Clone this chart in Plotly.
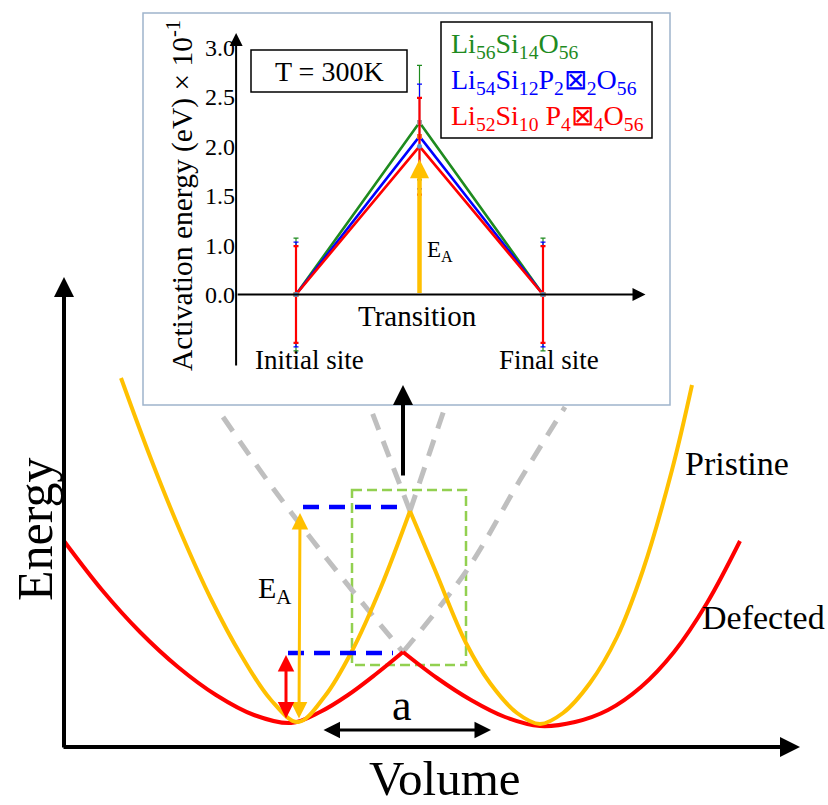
import plotly.graph_objects as go

W, H = 828, 805
FONT = "Liberation Serif"

# ---------------- main schematic: curves (pixel units, y downward) ----------------
pristine_left_x = [121, 151, 181, 211, 241, 271, 298, 325, 352, 381, 410]
pristine_left_y = [378, 459, 533, 599, 655, 700, 722, 696, 651, 587, 511]
pristine_right_x = [410, 435, 466, 490, 517, 540, 563, 590, 617, 643, 672, 692]
pristine_right_y = [511, 570, 643, 683, 713, 724, 713, 683, 637, 570, 470, 385]
defected_left_x = [64, 102, 140, 178, 216, 254, 291, 320, 348, 376, 403]
defected_left_y = [541, 590, 632, 667, 695, 715, 723, 712, 695, 674, 652]
defected_right_x = [403, 437, 471, 505, 540, 575, 608, 641, 674, 707, 740]
defected_right_y = [652, 678, 700, 717, 726, 722, 710, 687, 652, 603, 541]
guide_a_x = [223, 267, 313, 360, 403]
guide_a_y = [417, 480, 541, 600, 652]
guide_b_x = [403, 467, 520, 565]
guide_b_y = [652, 570, 480, 407]
guide_c_x = [410, 370]
guide_c_y = [511, 407]
guide_d_x = [410, 445]
guide_d_y = [511, 407]

# ---------------- inset: activation energy ----------------
sites = [0, 1, 2]
site_labels = ["Initial site", "Transition", "Final site"]
BASE = 0.5  # the inset's "0.0" tick sits at this axis position
ea_li56 = [BASE, 2.24, BASE]
ea_li54 = [BASE, 2.10, BASE]
ea_li52 = [BASE, 2.00, BASE]
err_li56 = [0.57, 0.58, 0.57]
err_li54 = [0.53, 0.53, 0.53]
err_li52 = [0.49, 0.49, 0.49]
tick_pos = [0.5, 1.0, 1.5, 2.0, 2.5, 3.0]
tick_text = ["0.0", "1.0", "1.5", "2.0", "2.5", "3.0"]
series_names = ["Li<sub>56</sub>Si<sub>14</sub>O<sub>56</sub>",
                "Li<sub>54</sub>Si<sub>12</sub>P<sub>2</sub>\u22a0<sub>2</sub>O<sub>56</sub>",
                "Li<sub>52</sub>Si<sub>10</sub> P<sub>4</sub>\u22a0<sub>4</sub>O<sub>56</sub>"]

GREEN, BLUE, RED = "#1f8b1f", "#0000ff", "#ff0000"
GOLD, CURVE_RED, GRAY = "#ffc000", "#ff0000", "#bfbfbf"

fig = go.Figure()

def curve(x, y, color, width, dash=None):
    fig.add_trace(go.Scatter(x=x, y=y, mode="lines", xaxis="x", yaxis="y",
                             line=dict(color=color, width=width, shape="spline", dash=dash),
                             hoverinfo="skip"))

for gx, gy in [(guide_a_x, guide_a_y), (guide_b_x, guide_b_y), (guide_c_x, guide_c_y), (guide_d_x, guide_d_y)]:
    curve(gx, gy, GRAY, 5, "17px,12px")
curve(defected_left_x, defected_left_y, CURVE_RED, 4)
curve(defected_right_x, defected_right_y, CURVE_RED, 4)
curve(pristine_left_x, pristine_left_y, GOLD, 4)
curve(pristine_right_x, pristine_right_y, GOLD, 4)

# inset lines
for ys, c in [(ea_li56, GREEN), (ea_li54, BLUE), (ea_li52, RED)]:
    fig.add_trace(go.Scatter(x=sites, y=ys, mode="lines", xaxis="x2", yaxis="y2",
                             line=dict(color=c, width=2.6), hoverinfo="skip"))
# inset error bars + markers
for ys, es, c, mc, sym, th in [(ea_li56, err_li56, GREEN, "#a5a5a5", "square", 1.2),
                               (ea_li54, err_li54, BLUE, "#ed7d31", "square", 1.2),
                               (ea_li52, err_li52, RED, "#5b9bd5", "circle", 2.2)]:
    fig.add_trace(go.Scatter(x=sites, y=ys, mode="markers", xaxis="x2", yaxis="y2",
                             marker=dict(color=mc, size=5, symbol=sym),
                             error_y=dict(type="data", array=es, color=c, thickness=th, width=2.5),
                             hoverinfo="skip"))

# inset geometry (pixel placement of its plot area)
X2_RANGE = [-0.485, 2.83]
Y2_RANGE = [-0.234, 3.147]
x2_px = (236.1, 645.5)
y2_px = (33, 367)

shapes = [
    dict(type="rect", xref="x", yref="y", x0=143, y0=13, x1=670, y1=405,
         line=dict(color="#9fb4cc", width=1.5), layer="below"),
    dict(type="rect", xref="x", yref="y", x0=251, y0=50, x1=407, y1=92,
         line=dict(color="black", width=1.5)),
    dict(type="rect", xref="x", yref="y", x0=441, y0=22, x1=652, y1=138,
         line=dict(color="black", width=1.5)),
    dict(type="rect", xref="x", yref="y", x0=352, y0=490, x1=466, y1=665,
         line=dict(color="#92d050", width=2.5, dash="10px,5px"), layer="below"),
    dict(type="line", xref="x", yref="y", x0=303, y0=507, x1=407, y1=507,
         line=dict(color="#0000ff", width=4.5, dash="16px,10px")),
    dict(type="line", xref="x", yref="y", x0=288, y0=653, x1=393, y1=653,
         line=dict(color="#0000ff", width=4.5, dash="16px,10px")),
]

def arrow(x0, y0, x1, y1, color, width, both=False, size=1.0, ref=("x", "y")):
    d = dict(x=x1, y=y1, ax=x0, ay=y0, xref=ref[0], yref=ref[1], axref=ref[0], ayref=ref[1],
             text="", showarrow=True, arrowhead=2, arrowsize=size, arrowwidth=width,
             arrowcolor=color, standoff=0, startstandoff=0)
    if both:
        d.update(arrowside="end+start", startarrowhead=2, startarrowsize=size)
    return d

ann = [
    # main axes
    arrow(64, 749, 64, 277, "black", 4, size=1.0),
    arrow(62, 747, 800, 747, "black", 4, size=1.0),
    # arrows in schematic
    arrow(299, 720, 300, 513, GOLD, 3, both=True, size=1.1),
    arrow(286, 720, 286, 655, CURVE_RED, 3, both=True, size=1.1),
    arrow(322, 730, 491, 730, "black", 3, both=True, size=1.1),
    arrow(403, 477, 403, 385, "black", 4, size=1.0),
    # inset axes
    arrow(X2_RANGE[0], Y2_RANGE[0], X2_RANGE[0], Y2_RANGE[1], "black", 2, size=1.3, ref=("x2", "y2")),
    arrow(X2_RANGE[0], BASE, X2_RANGE[1], BASE, "black", 2, size=1.3, ref=("x2", "y2")),
    arrow(sites[1], BASE, sites[1], 1.87, GOLD, 4.5, size=0.85, ref=("x2", "y2")),
]

def txt(x, y, s, size, color="black", xanchor="center", angle=0):
    return dict(x=x, y=y, xref="x", yref="y", text=s, showarrow=False, xanchor=xanchor,
                yanchor="middle", textangle=angle, font=dict(family=FONT, size=size, color=color))

ann += [
    txt(35, 530, "Energy", 50, angle=-90),
    txt(445, 778, "Volume", 49),
    txt(683, 463, "Pristine", 34, xanchor="left"),
    txt(700, 617, "Defected", 34, xanchor="left"),
    txt(402, 705, "a", 44),
    txt(256, 590, "E<sub>A</sub>", 30, xanchor="left"),
    txt(329, 71, "T = 300K", 28),
    txt(449, 45, series_names[0], 28, GREEN, "left"),
    txt(449, 81, series_names[1], 28, BLUE, "left"),
    txt(449, 117, series_names[2], 28, RED, "left"),
    txt(180, 196, "Activation energy (eV) \u00d7 10<sup>-1</sup>", 29.5, angle=-90),
    txt(417, 316, site_labels[1], 29),
    txt(309, 360, site_labels[0], 27),
    txt(549, 360, site_labels[2], 27),
    txt(425, 251, "E<sub>A</sub>", 23, xanchor="left"),
]

fig.update_layout(
    width=W, height=H, margin=dict(l=0, r=0, t=0, b=0),
    paper_bgcolor="white", plot_bgcolor="rgba(0,0,0,0)", showlegend=False,
    xaxis=dict(domain=[0, 1], range=[0, W], visible=False, fixedrange=True),
    yaxis=dict(domain=[0, 1], range=[H, 0], visible=False, fixedrange=True),
    xaxis2=dict(domain=[x2_px[0] / W, x2_px[1] / W], range=X2_RANGE, anchor="y2",
                visible=False, fixedrange=True),
    yaxis2=dict(domain=[1 - y2_px[1] / H, 1 - y2_px[0] / H], range=Y2_RANGE, anchor="x2",
                tickvals=tick_pos, ticktext=tick_text, ticks="", showline=False,
                showgrid=False, zeroline=False, fixedrange=True,
                tickfont=dict(family=FONT, size=24, color="black")),
    shapes=shapes, annotations=ann,
)

fig.write_html("out.html")
